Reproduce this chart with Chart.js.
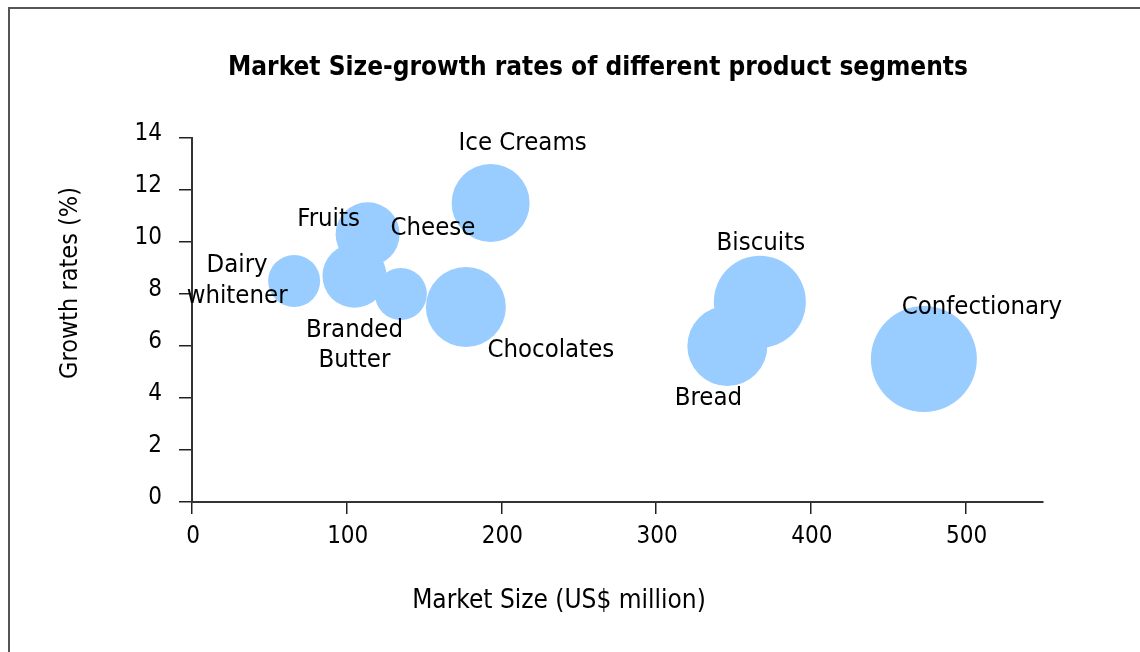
<!DOCTYPE html>
<html>
<head>
<meta charset="utf-8">
<script src="https://cdn.jsdelivr.net/npm/chart.js@4.4.1/dist/chart.umd.min.js"></script>
<style>
  html, body { margin: 0; padding: 0; background: #fff; }
  #wrap { position: relative; width: 1140px; height: 652px; overflow: hidden; }
  #frame { position: absolute; left: 8px; top: 7px; width: 1200px; height: 700px;
           border-left: 2px solid #555; border-top: 2px solid #555; pointer-events: none; }
  canvas { position: absolute; left: 0; top: 0; }
</style>
</head>
<body>
<div id="wrap">
  <canvas id="c" width="1140" height="652"></canvas>
  <div id="frame"></div>
</div>
<script>
// ---- Data ----
const segments = ["Dairy whitener", "Branded Butter", "Fruits", "Cheese", "Chocolates",
                  "Ice Creams", "Biscuits", "Bread", "Confectionary"];
const marketSize = [66, 105, 113.5, 135, 177, 193, 367, 346, 473];      // US$ million
const growthRate = [8.5, 8.7, 10.3, 8.0, 7.5, 11.5, 7.7, 6.0, 5.5];     // %
const bubbleSize = [26, 32, 32, 26, 40, 39, 46, 40, 53];
const xTicks = [0, 100, 200, 300, 400, 500];
const yTicks = [0, 2, 4, 6, 8, 10, 12, 14];
const chartTitle = "Market Size-growth rates of different product segments";
const xTitle = "Market Size (US$ million)";
const yTitle = "Growth rates (%)";

const FONT = "'DejaVu Sans Condensed', 'DejaVu Sans', Verdana, sans-serif";

// label placement (offset from bubble centre, in px) — layout only
const labelLayout = {
  "Dairy whitener": { lines: ["Dairy", "whitener"], dx: -57, dy: [-16, 15] },
  "Branded Butter": { lines: ["Branded", "Butter"], dx: 0, dy: [55, 85] },
  "Fruits": { lines: ["Fruits"], dx: -39, dy: [-15] },
  "Cheese": { lines: ["Cheese"], dx: 32, dy: [-66] },
  "Chocolates": { lines: ["Chocolates"], dx: 85, dy: [43] },
  "Ice Creams": { lines: ["Ice Creams"], dx: 32, dy: [-60] },
  "Biscuits": { lines: ["Biscuits"], dx: 1, dy: [-58] },
  "Bread": { lines: ["Bread"], dx: -19, dy: [52] },
  "Confectionary": { lines: ["Confectionary"], dx: 58, dy: [-52] }
};

const textsPlugin = {
  id: 'texts',
  afterDatasetsDraw(chart) {
    const ctx = chart.ctx;
    const meta = chart.getDatasetMeta(0);
    ctx.save();
    ctx.fillStyle = "#000";
    ctx.textAlign = "center";
    ctx.textBaseline = "middle";
    // bubble labels
    ctx.font = "25.5px " + FONT;
    meta.data.forEach((el, i) => {
      const lay = labelLayout[segments[i]];
      lay.lines.forEach((ln, k) => {
        ctx.fillText(ln, el.x + lay.dx, el.y + lay.dy[k]);
      });
    });
    // chart title
    ctx.font = "bold 26px " + FONT;
    ctx.fillText(chartTitle, 598, 68);
    // axis titles
    ctx.font = "26px " + FONT;
    ctx.fillText(xTitle, 559, 601);
    ctx.font = "25px " + FONT;
    ctx.translate(70, 283);
    ctx.rotate(-Math.PI / 2);
    ctx.fillText(yTitle, 0, 0);
    ctx.restore();
  }
};

const data = {
  datasets: [{
    label: "Segments",
    data: segments.map((s, i) => ({ x: marketSize[i], y: growthRate[i], r: bubbleSize[i] })),
    backgroundColor: "#99CCFF",
    borderWidth: 0,
    hoverRadius: 0
  }]
};

new Chart(document.getElementById('c'), {
  type: 'bubble',
  data,
  plugins: [textsPlugin],
  options: {
    responsive: false,
    animation: false,
    events: [],
    layout: { padding: { left: 0, right: 97, top: 138, bottom: 0 } },
    plugins: {
      legend: { display: false },
      tooltip: { enabled: false },
      title: { display: false }
    },
    scales: {
      x: {
        type: 'linear',
        min: 0, max: 550,
        bounds: 'data',
        afterBuildTicks: (s) => { s.ticks = xTicks.map(v => ({ value: v })); },
        afterFit: (s) => { s.height = 150; },
        grid: { display: true, drawOnChartArea: false, drawTicks: true, tickLength: 12, color: "#222", lineWidth: 1.5 },
        border: { display: true, color: "#333", width: 2 },
        ticks: { color: "#000", font: { family: FONT, size: 24 }, padding: 8, labelOffset: 1, maxRotation: 0 },
        title: { display: false }
      },
      y: {
        type: 'linear',
        min: 0, max: 14,
        bounds: 'data',
        afterBuildTicks: (s) => { s.ticks = yTicks.map(v => ({ value: v })); },
        afterFit: (s) => { s.width = 192; },
        grid: { display: true, drawOnChartArea: false, drawTicks: true, tickLength: 13, color: "#222", lineWidth: 1.5 },
        border: { display: true, color: "#333", width: 2 },
        ticks: { color: "#000", font: { family: FONT, size: 24 }, padding: 17, labelOffset: -4 },
        title: { display: false }
      }
    }
  }
});
</script>
</body>
</html>
